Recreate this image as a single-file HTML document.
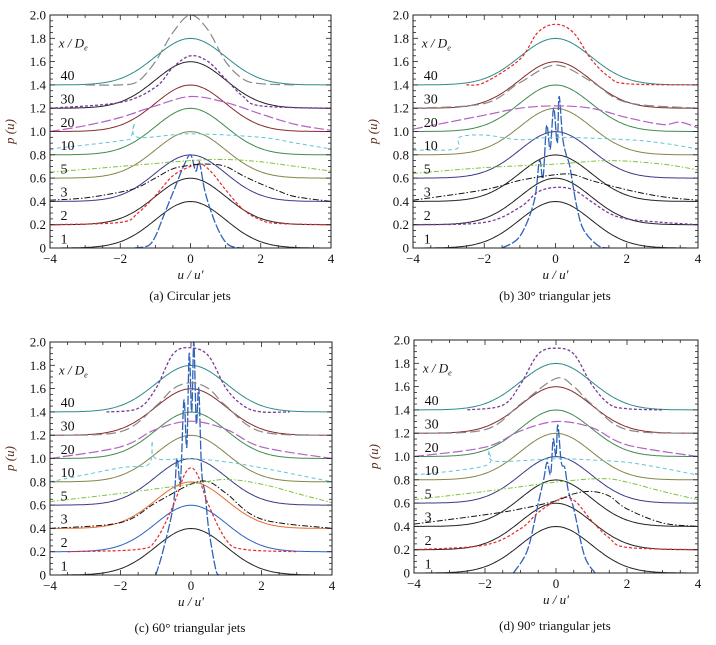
<!DOCTYPE html>
<html><head><meta charset="utf-8"><style>
body{margin:0;background:#fff;}
svg{display:block;font-family:"Liberation Serif",serif;}
</style></head><body>
<svg id="fig" width="716" height="645" viewBox="0 0 716 645"></svg>
<script>
// ---- data ----
const stations = ["1","2","3","5","10","20","30","40"];
const modelOffsets = [0,0.2,0.4,0.6,0.8,1.0,1.2,1.4];
const modelSigma = 1;
const xTicks = [-4,-2,0,2,4];
const xTickLabels = ["\u22124","\u22122","0","2","4"];
const yTicks = [0,0.2,0.4,0.6,0.8,1.0,1.2,1.4,1.6,1.8,2.0];
const yTickLabels = ["0","0.2","0.4","0.6","0.8","1.0","1.2","1.4","1.6","1.8","2.0"];
const captions = ["(a)  Circular jets","(b)  30\u00b0 triangular jets","(c)  60\u00b0 triangular jets","(d)  90\u00b0 triangular jets"];
const modelColorsA = ["#222","#222","#3a3a86","#84844a","#3f8a4c","#862a2a","#222","#2e8a8a"];
const modelColorsB = ["#222","#222","#222","#3a3a86","#84844a","#3f8a4c","#862a2a","#2e8a8a"];
const modelColorsC = ["#222","#2a62c0","#e86a30","#3a3a86","#84844a","#3f8a4c","#862a2a","#2e8a8a"];
const modelColorsD = ["#222","#222","#222","#3a3a86","#84844a","#3f8a4c","#862a2a","#2e8a8a"];

const A1=[[-1.6,0],[-1.2,0.02],[-1,0.1],[-0.8,0.25],[-0.6,0.4],[-0.4,0.55],[-0.2,0.7],[0,0.8],[0.15,0.66],[0.25,0.74],[0.4,0.5],[0.6,0.3],[0.8,0.15],[1,0.05],[1.2,0.01],[1.5,0]];
const A2=[[-4,0.2],[-2,0.22],[-1.5,0.3],[-1,0.45],[-0.5,0.62],[0,0.7],[0.3,0.72],[0.6,0.65],[1,0.5],[1.5,0.33],[2,0.24],[2.5,0.21],[4,0.2]];
const A3=[[-4,0.41],[-3,0.43],[-2,0.48],[-1.5,0.52],[-1,0.6],[-0.5,0.68],[0,0.71],[0.5,0.72],[1,0.7],[1.5,0.62],[2,0.55],[2.5,0.49],[3,0.44],[4,0.4]];
const A5=[[-4,0.65],[-2,0.7],[0,0.75],[1,0.76],[2,0.74],[3,0.7],[4,0.66]];
const A10=[[-4,0.85],[-2,0.92],[-1.7,0.95],[-1.6,1.07],[-1.5,0.95],[0,0.98],[2,0.95],[3,0.9],[4,0.85]];
const A20=[[-4,1.0],[-3,1.05],[-2,1.12],[-1,1.22],[0,1.3],[1,1.25],[2,1.15],[3,1.06],[4,1.01]];
const A30=[[-4,1.2],[-2,1.25],[-1,1.38],[-0.5,1.55],[0,1.65],[0.5,1.6],[1,1.45],[1.5,1.3],[2,1.22],[4,1.2]];
const A40=[[-3,1.4],[-2,1.4],[-1.5,1.43],[-1,1.6],[-0.5,1.85],[0,2.0],[0.5,1.87],[1,1.6],[1.5,1.45],[2,1.41],[3,1.4]];

const B1=[[-1.5,0],[-1,0.1],[-0.6,0.4],[-0.45,0.75],[-0.35,0.6],[-0.25,1.05],[-0.15,0.85],[-0.05,1.2],[0.05,0.9],[0.1,1.3],[0.2,0.95],[0.3,0.8],[0.4,0.7],[0.6,0.35],[0.8,0.15],[1.2,0.02],[1.5,0]];
const B2=[[-4,0.2],[-2,0.22],[-1,0.35],[-0.5,0.48],[0,0.52],[0.5,0.5],[1,0.4],[1.5,0.3],[2,0.25],[3,0.22],[4,0.2]];
const B3=[[-4,0.41],[-2,0.5],[-1,0.58],[0,0.63],[0.5,0.63],[1,0.58],[2,0.5],[3,0.44],[4,0.41]];
const B5=[[-4,0.64],[-2,0.69],[0,0.72],[1.5,0.75],[3,0.72],[4,0.67]];
const B10=[[-4,0.84],[-2.8,0.85],[-2.7,0.95],[-2,0.97],[-1,0.93],[0,0.95],[2,0.93],[3,0.9],[4,0.85]];
const B20=[[-4,1.02],[-2,1.14],[-1,1.2],[0,1.22],[1,1.2],[2,1.12],[3,1.06],[3.5,1.08],[4,1.03]];
const B30=[[-4,1.2],[-2,1.24],[-1,1.42],[0,1.57],[1,1.43],[2,1.25],[4,1.2]];
const B40=[[-2.5,1.4],[-2,1.42],[-1,1.62],[-0.5,1.85],[0,1.92],[0.5,1.85],[1,1.62],[1.5,1.47],[2,1.41],[4,1.4]];

const C1=[[-1,0],[-0.8,0.2],[-0.5,0.6],[-0.4,1.0],[-0.3,0.8],[-0.2,1.5],[-0.12,1.1],[-0.05,1.9],[0.02,1.4],[0.08,2.0],[0.15,1.3],[0.22,1.6],[0.3,0.9],[0.4,0.7],[0.5,0.4],[0.7,0.05],[0.8,0]];
const C2=[[-3.5,0.2],[-1.5,0.22],[-1,0.3],[-0.5,0.6],[-0.2,0.85],[0,0.92],[0.2,0.85],[0.5,0.6],[1,0.3],[1.5,0.22],[3,0.2]];
const C3=[[-4,0.4],[-2,0.45],[-1,0.62],[0,0.78],[0.5,0.8],[1,0.7],[2,0.48],[4,0.4]];
const C5=[[-4,0.63],[-2,0.7],[0,0.78],[1,0.82],[2,0.78],[3,0.7],[4,0.62]];
const C10=[[-4,0.8],[-2,0.92],[-1.2,0.95],[-1.1,1.15],[-1.0,1.0],[0,1.0],[1,0.97],[2,0.92],[4,0.8]];
const C20=[[-4,1.0],[-2,1.1],[-1,1.25],[0,1.32],[1,1.25],[2,1.1],[4,1.0]];
const C30=[[-4,1.2],[-2,1.23],[-1,1.45],[-0.5,1.6],[0,1.65],[0.5,1.6],[1,1.45],[2,1.23],[4,1.2]];
const C40=[[-2.4,1.4],[-1.5,1.43],[-1,1.6],[-0.5,1.9],[0,1.95],[0.5,1.88],[1,1.6],[1.5,1.45],[2,1.4],[2.8,1.4]];

const D1=[[-1.2,0],[-0.8,0.2],[-0.5,0.6],[-0.35,0.8],[-0.25,0.95],[-0.15,0.85],[-0.08,1.15],[0,1.0],[0.05,1.27],[0.15,0.95],[0.25,0.9],[0.35,0.7],[0.5,0.55],[0.8,0.15],[1.1,0]];
const D2=[[-4,0.2],[-2,0.24],[-1,0.38],[-0.5,0.52],[0,0.62],[0.3,0.65],[0.6,0.6],[1,0.45],[1.5,0.3],[2,0.22],[4,0.2]];
const D3=[[-4,0.42],[-2,0.5],[-1,0.55],[0,0.62],[0.5,0.68],[1,0.7],[1.5,0.66],[2,0.55],[3,0.43],[4,0.4]];
const D5=[[-4,0.63],[-2,0.7],[0,0.78],[1.3,0.81],[2,0.78],[3,0.7],[4,0.63]];
const D10=[[-4,0.84],[-2,0.92],[-1.9,1.05],[-1.7,0.96],[0,0.98],[1,0.97],[2,0.95],[3,0.9],[4,0.84]];
const D20=[[-4,1.0],[-2,1.08],[-1,1.22],[0,1.3],[1,1.25],[2,1.1],[4,1.0]];
const D30=[[-4,1.2],[-2,1.23],[-1,1.45],[0,1.67],[0.5,1.6],[1,1.45],[2,1.23],[4,1.2]];
const D40=[[-2.5,1.4],[-1.5,1.44],[-1,1.62],[-0.5,1.88],[0,1.93],[0.5,1.88],[1,1.62],[1.5,1.45],[2,1.41],[3,1.4]];

const styleBlue={c:"#2f63b8",d:"9,2",w:1.3};
const styleRed={c:"#e8282a",d:"3,2",w:1.2};
const styleBlack={c:"#111",d:"6,2,1.5,2",w:1};
const styleGreen={c:"#7cc43a",d:"5,2,1.5,2",w:1};
const styleCyan={c:"#5fc6d8",d:"4,3",w:1};
const styleMag={c:"#b262c4",d:"10,3",w:1.2};
const stylePurple={c:"#7a3a9a",d:"3,2",w:1.3};
const styleGray={c:"#888",d:"10,4",w:1.2};

const panels=[
 {id:"a",x0:50,x1:331,yt:15,yb:248,colors:modelColorsA,cap:[190,300],
  exp:[[A1,styleBlue],[A2,styleRed],[A3,styleBlack],[A5,styleGreen],[A10,styleCyan],[A20,styleMag],[A30,stylePurple],[A40,styleGray]]},
 {id:"b",x0:413,x1:698,yt:15,yb:248,colors:modelColorsB,cap:[555,300],
  exp:[[B1,styleBlue],[B2,stylePurple],[B3,styleBlack],[B5,styleGreen],[B10,styleCyan],[B20,styleMag],[B30,styleGray],[B40,styleRed]]},
 {id:"c",x0:50,x1:332,yt:342,yb:575,colors:modelColorsC,cap:[190,632],
  exp:[[C1,styleBlue],[C2,styleRed],[C3,styleBlack],[C5,styleGreen],[C10,styleCyan],[C20,styleMag],[C30,styleGray],[C40,stylePurple]]},
 {id:"d",x0:414,x1:698,yt:340,yb:573,colors:modelColorsD,cap:[555,630],
  exp:[[D1,styleBlue],[D2,styleRed],[D3,styleBlack],[D5,styleGreen],[D10,styleCyan],[D20,styleMag],[D30,styleGray],[D40,stylePurple]]}
];

const NS="http://www.w3.org/2000/svg";
const svg=document.getElementById("fig");
function mk(tag,attrs,parent){const e=document.createElementNS(NS,tag);for(const k in attrs)e.setAttribute(k,attrs[k]);(parent||svg).appendChild(e);return e;}
function smooth(pts){
 let d="M"+pts[0][0].toFixed(1)+","+pts[0][1].toFixed(1);
 for(let i=0;i<pts.length-1;i++){
  const p0=pts[Math.max(0,i-1)],p1=pts[i],p2=pts[i+1],p3=pts[Math.min(pts.length-1,i+2)];
  const c1x=p1[0]+(p2[0]-p0[0])/6,c1y=p1[1]+(p2[1]-p0[1])/6;
  const c2x=p2[0]-(p3[0]-p1[0])/6,c2y=p2[1]-(p3[1]-p1[1])/6;
  d+="C"+c1x.toFixed(1)+","+c1y.toFixed(1)+" "+c2x.toFixed(1)+","+c2y.toFixed(1)+" "+p2[0].toFixed(1)+","+p2[1].toFixed(1);
 }
 return d;
}
panels.forEach(P=>{
 const g=mk("g",{});
 
 
 const sx=u=>P.x0+(u+4)/8*(P.x1-P.x0);
 const sy=v=>P.yb-v/2*(P.yb-P.yt);
 modelOffsets.forEach((off,i)=>{
  let d="";
  for(let k=0;k<=160;k++){const u=-4+k*0.05;const v=off+Math.exp(-u*u/(2*modelSigma*modelSigma))/(Math.sqrt(2*Math.PI)*modelSigma);
   d+=(k?"L":"M")+sx(u).toFixed(1)+","+sy(v).toFixed(1);}
  const p=mk("path",{d:d,fill:"none",stroke:P.colors[i],"stroke-width":1},g);
  
  
 });
 P.exp.forEach((e,i)=>{
  const pts=e[0].map(q=>[sx(q[0]),sy(q[1])]);
  const p=mk("path",{d:smooth(pts),fill:"none",stroke:e[1].c,"stroke-width":e[1].w,"stroke-dasharray":e[1].d},g);
  
  
 });
 const fr=mk("rect",{x:P.x0,y:P.yt,width:P.x1-P.x0,height:P.yb-P.yt,fill:"none",stroke:"#222","stroke-width":1},g);
 
 
 for(let u=-4;u<=4.001;u+=0.5){
  const X=sx(u),L=(Math.abs(u%2)<1e-6)?5:3;
  mk("line",{x1:X,x2:X,y1:P.yb,y2:P.yb-L,stroke:"#222","stroke-width":0.8},g);
  mk("line",{x1:X,x2:X,y1:P.yt,y2:P.yt+L,stroke:"#222","stroke-width":0.8},g);
 }
 xTicks.forEach((u,i)=>{
  const t=mk("text",{x:sx(u),y:P.yb+15,"text-anchor":"middle","font-size":13,fill:"#111"},g);
  t.textContent=xTickLabels[i];
  
  
 });
 for(let v=0;v<=2.001;v+=0.05){
  const Y=sy(v),L=(Math.abs((v*10)%2)<1e-6||Math.abs((v*10)%2-2)<1e-6)?5:3;
  mk("line",{x1:P.x0,x2:P.x0+L,y1:Y,y2:Y,stroke:"#222","stroke-width":0.8},g);
  mk("line",{x1:P.x1,x2:P.x1-L,y1:Y,y2:Y,stroke:"#222","stroke-width":0.8},g);
 }
 yTicks.forEach((v,i)=>{
  const t=mk("text",{x:P.x0-4,y:sy(v)+4.5,"text-anchor":"end","font-size":13,fill:"#111"},g);
  t.textContent=yTickLabels[i];
  
  
 });
 stations.forEach((s,i)=>{
  const t=mk("text",{x:sx(-3.7),y:sy(modelOffsets[i]+0.04),"font-size":14,fill:"#111"},g);
  t.textContent=s;
  
  
 });
 const h=mk("text",{x:sx(-3.75),y:sy(1.72),"font-size":13,"font-style":"italic",fill:"#111"},g);
 h.innerHTML='x / D<tspan font-size="8" dy="3">e</tspan>';
 
 
 const xl=mk("text",{x:(P.x0+P.x1)/2,y:P.yb+31,"text-anchor":"middle","font-size":13,"font-style":"italic",fill:"#111"},g);
 xl.textContent="u / u'";
 
 
 const cy=(P.yt+P.yb)/2;
 const yl=mk("text",{x:P.x0-36,y:cy,"text-anchor":"middle","font-size":13,"font-style":"italic",fill:"#5a2a1a",transform:"rotate(-90 "+(P.x0-36)+" "+cy+")"},g);
 yl.textContent="p (u)";
 
 
 const cp=mk("text",{x:P.cap[0],y:P.cap[1],"text-anchor":"middle","font-size":13,fill:"#111"},g);
 cp.textContent=captions[panels.indexOf(P)];
 
 
});
</script>
</body></html>
